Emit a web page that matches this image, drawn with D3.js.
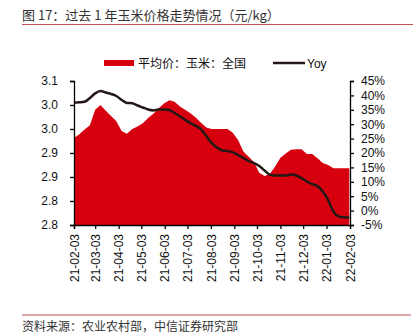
<!DOCTYPE html>
<html><head><meta charset="utf-8">
<script src="https://cdn.jsdelivr.net/npm/d3@7"></script>
<style>
body{margin:0;background:#fff;}
svg{display:block;font-family:"Liberation Sans",Arial,"Noto Sans CJK SC",sans-serif;}
</style></head>
<body><svg id="c" width="415" height="333"></svg>
<script>
const titleText = "图 17：过去 1 年玉米价格走势情况（元/kg）";
const sourceText = "资料来源：农业农村部，中信证券研究部";
const seriesNames = ["平均价：玉米：全国", "Yoy"];
const dates = ["2021-02-03","2021-02-10","2021-02-17","2021-02-24","2021-03-03","2021-03-10","2021-03-17","2021-03-24","2021-03-31","2021-04-07","2021-04-14","2021-04-21","2021-04-28","2021-05-05","2021-05-12","2021-05-19","2021-05-26","2021-06-02","2021-06-09","2021-06-16","2021-06-23","2021-06-30","2021-07-07","2021-07-14","2021-07-21","2021-07-28","2021-08-04","2021-08-11","2021-08-18","2021-08-25","2021-09-01","2021-09-08","2021-09-15","2021-09-22","2021-09-29","2021-10-06","2021-10-13","2021-10-20","2021-10-27","2021-11-03","2021-11-10","2021-11-17","2021-11-24","2021-12-01","2021-12-08","2021-12-15","2021-12-22","2021-12-29","2022-01-05","2022-01-12","2022-01-19","2022-01-26","2022-02-02"];
const price = [2.931,2.939,2.949,2.958,2.990,3.000,2.988,2.977,2.966,2.946,2.940,2.950,2.955,2.962,2.973,2.982,2.993,3.003,3.010,3.007,2.997,2.990,2.983,2.974,2.963,2.953,2.950,2.950,2.950,2.950,2.942,2.927,2.903,2.892,2.881,2.859,2.852,2.856,2.872,2.890,2.899,2.907,2.908,2.908,2.898,2.898,2.889,2.879,2.875,2.868,2.868,2.868,2.868];
const yoy = [37.5,37.6,37.8,39.1,40.7,41.5,41.0,40.5,39.8,38.4,37.4,37.3,36.5,35.8,35.1,34.8,35.1,35.1,34.9,33.9,32.7,31.5,30.4,29.4,28.2,25.9,23.5,21.9,20.9,20.7,20.2,19.3,18.3,17.2,16.5,15.5,13.9,12.5,12.2,12.2,12.2,12.5,12.2,11.3,10.1,9.2,8.5,6.6,3.7,-0.3,-2.0,-2.3,-2.4];
const leftTicks = [2.75,2.80,2.85,2.90,2.95,3.00,3.05];
const leftTickLabels = ["2.8","2.8","2.9","2.9","3.0","3.0","3.1"];
const rightTicks = [-5,0,5,10,15,20,25,30,35,40,45];
const xTickDates = ["2021-02-03","2021-03-03","2021-04-03","2021-05-03","2021-06-03","2021-07-03","2021-08-03","2021-09-03","2021-10-03","2021-11-03","2021-12-03","2022-01-03","2022-02-03"];

const parse = d3.utcParse("%Y-%m-%d");
const fmtX = d3.utcFormat("%y-%m-%d");
const svg = d3.select("#c");
const L = 74, R = 350, T = 81, B = 225;

const x = d3.scaleUtc().domain([parse("2021-02-03"), parse("2022-02-03")]).range([L, R]);
const yL = d3.scaleLinear().domain([2.75, 3.05]).range([B, T]);
const yR = d3.scaleLinear().domain([-5, 45]).range([B, T]);

const data = dates.map((d,i)=>({d:parse(d), p:price[i], y:yoy[i]}));

// title
svg.append("text").attr("x",22).attr("y",20).attr("font-size",13).attr("fill","#333")
  .attr("font-family","'Noto Sans CJK SC','Liberation Sans',sans-serif").text(titleText);
svg.append("line").attr("x1",22).attr("x2",413).attr("y1",24.5).attr("y2",24.5).attr("stroke","#c0504d").attr("stroke-width",1);

// area
svg.append("path").datum(data)
  .attr("fill","#d7000f")
  .attr("d", d3.area().x(d=>x(d.d)).y0(B).y1(d=>yL(d.p)));

// yoy line
svg.append("path").datum(data)
  .attr("fill","none").attr("stroke","#231815").attr("stroke-width",2.5)
  .attr("d", d3.line().curve(d3.curveMonotoneX).x(d=>x(d.d)).y(d=>yR(d.y)));

// axes
function styleAxis(g){
  g.selectAll("path,line").attr("stroke","#000").attr("stroke-width",1.3);
  g.selectAll("text").attr("font-size",12).attr("fill","#111").attr("font-family","'Liberation Sans',Arial,sans-serif");
}
const gl = svg.append("g").attr("transform",`translate(${L},0)`)
  .call(d3.axisLeft(yL).tickValues(leftTicks).tickFormat((d,i)=>leftTickLabels[i]).tickSizeOuter(0).tickSize(4).tickPadding(12));
styleAxis(gl);
const gr = svg.append("g").attr("transform",`translate(${R},0)`)
  .call(d3.axisRight(yR).tickValues(rightTicks).tickFormat(d=>d+"%").tickSizeOuter(0).tickSize(4).tickPadding(7));
styleAxis(gr);
const gb = svg.append("g").attr("transform",`translate(0,${B})`)
  .call(d3.axisBottom(x).tickValues(xTickDates.map(parse)).tickFormat(fmtX).tickSizeOuter(0).tickSize(4));
styleAxis(gb);
gb.selectAll(".tick text").attr("transform","rotate(-90)").attr("text-anchor","end")
  .attr("x",-9).attr("y",0).attr("dy","0.35em");

// legend
svg.append("rect").attr("x",104).attr("y",60).attr("width",30).attr("height",6).attr("fill","#d7000f");
svg.append("text").attr("x",138).attr("y",67.5).attr("font-size",12).attr("fill","#111")
  .attr("font-family","'Noto Sans CJK SC','Liberation Sans',sans-serif").text(seriesNames[0]);
svg.append("line").attr("x1",273).attr("x2",305).attr("y1",63).attr("y2",63).attr("stroke","#231815").attr("stroke-width",2.5);
svg.append("text").attr("x",307).attr("y",67.5).attr("font-size",12).attr("fill","#111").text(seriesNames[1]);

// source
svg.append("line").attr("x1",22).attr("x2",411).attr("y1",315).attr("y2",315).attr("stroke","#c0504d").attr("stroke-width",1);
svg.append("text").attr("x",22).attr("y",331).attr("font-size",12).attr("fill","#333")
  .attr("font-family","'Noto Sans CJK SC','Liberation Sans',sans-serif").text(sourceText);
</script></body></html>
